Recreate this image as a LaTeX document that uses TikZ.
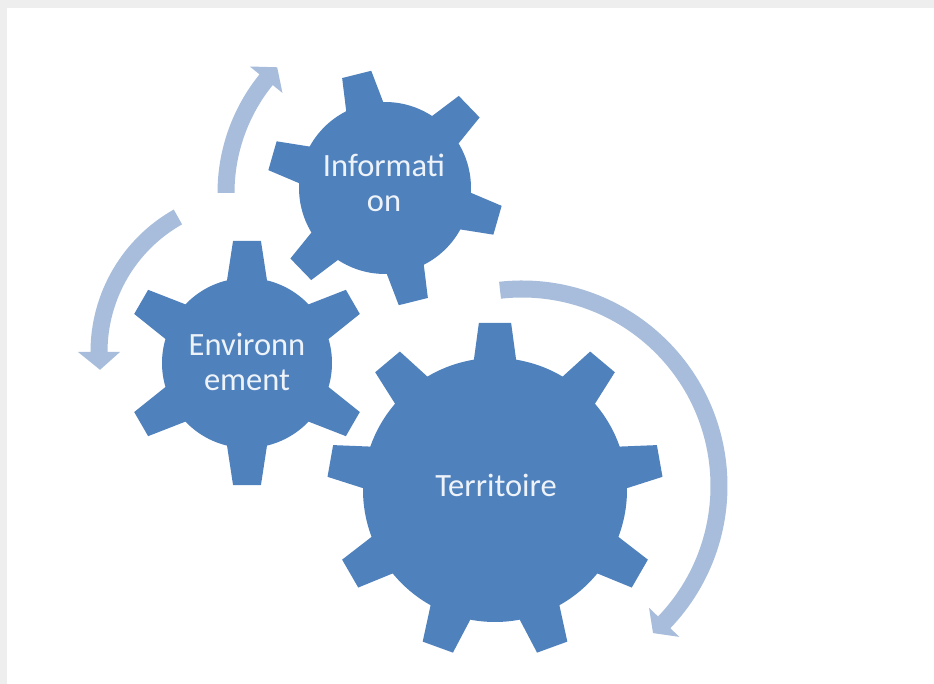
\documentclass[tikz,border=0pt]{standalone}
\usepackage{fontspec}
\setmainfont{Carlito}
\definecolor{gearblue}{HTML}{4F81BD}
\definecolor{arrowblue}{HTML}{A7BDDB}
\definecolor{textwhite}{HTML}{EEF3FA}
\definecolor{edgegray}{HTML}{EEEEEE}
\tikzset{
  gearfill/.style={fill=gearblue},
  arrowfill/.style={fill=arrowblue},
  geartext/.style={text=textwhite, font=\fontsize{32.5}{35}\selectfont, align=center, inner sep=0pt}
}
% gear: cx, cy, last index, step, first angle, r body, r out, half base angle, half tip angle
\newcommand\mygear[9]{%
  \begin{scope}[shift={(#1,#2)}]
    \fill[gearfill] ({#5-#8}:#6)
      \foreach \k in {0,...,#3} {
        -- ({#5+\k*#4-#8}:#6) -- ({#5+\k*#4-#9}:#7) -- ({#5+\k*#4+#9}:#7) -- ({#5+\k*#4+#8}:#6)
        arc[start angle={#5+\k*#4+#8}, end angle={#5+(\k+1)*#4-#8}, radius=#6]
      } -- cycle;
  \end{scope}}
\begin{document}
\begin{tikzpicture}[x=1pt,y=1pt]
  \useasboundingbox (0,0) rectangle (934,684);
  \fill[white] (0,0) rectangle (934,684);
  \fill[edgegray] (0,676) rectangle (934,684);
  \fill[edgegray] (0,0) rectangle (7,684);

  % circular arrows
  \begin{scope}[shift={(522,198)}]
    \fill[arrowfill] (96.4:205.5) arc[start angle=96.4, end angle=-43.8, radius=205.5]
      -- (-43.8:218) -- (-48.3:197) -- (-43.8:176) -- (-43.8:188.5)
      arc[start angle=-43.8, end angle=96.4, radius=188.5] -- cycle;
  \end{scope}
  \begin{scope}[shift={(406,491)}]
    \fill[arrowfill] (180:188.5) arc[start angle=180, end angle=141, radius=188.5]
      -- (141:201) -- (135.7:180) -- (141:159) -- (141:171.5)
      arc[start angle=141, end angle=180, radius=171.5] -- cycle;
  \end{scope}
  \begin{scope}[shift={(254,332)}]
    \fill[arrowfill] (119.4:163.5) arc[start angle=119.4, end angle=180, radius=163.5]
      -- (180:176) -- (186.6:155) -- (180:134) -- (180:146.5)
      arc[start angle=180, end angle=119.4, radius=146.5] -- cycle;
  \end{scope}

  % gears
  \mygear{495}{194}{8}{40}{90}{132}{168}{9.2}{5.5}
  \mygear{385}{496}{5}{60}{104}{86}{118}{12.8}{7.3}
  \mygear{247}{321}{5}{60}{90}{85}{123}{13.6}{6.5}

  % labels
  \node[geartext] (info) at (384,501) {Informati\\on};
  \node[geartext] (env) at (247,322) {Environn\\ement};
  \node[geartext, anchor=base] (terr) at (496,187) {Territoire};
\end{tikzpicture}
\end{document}
